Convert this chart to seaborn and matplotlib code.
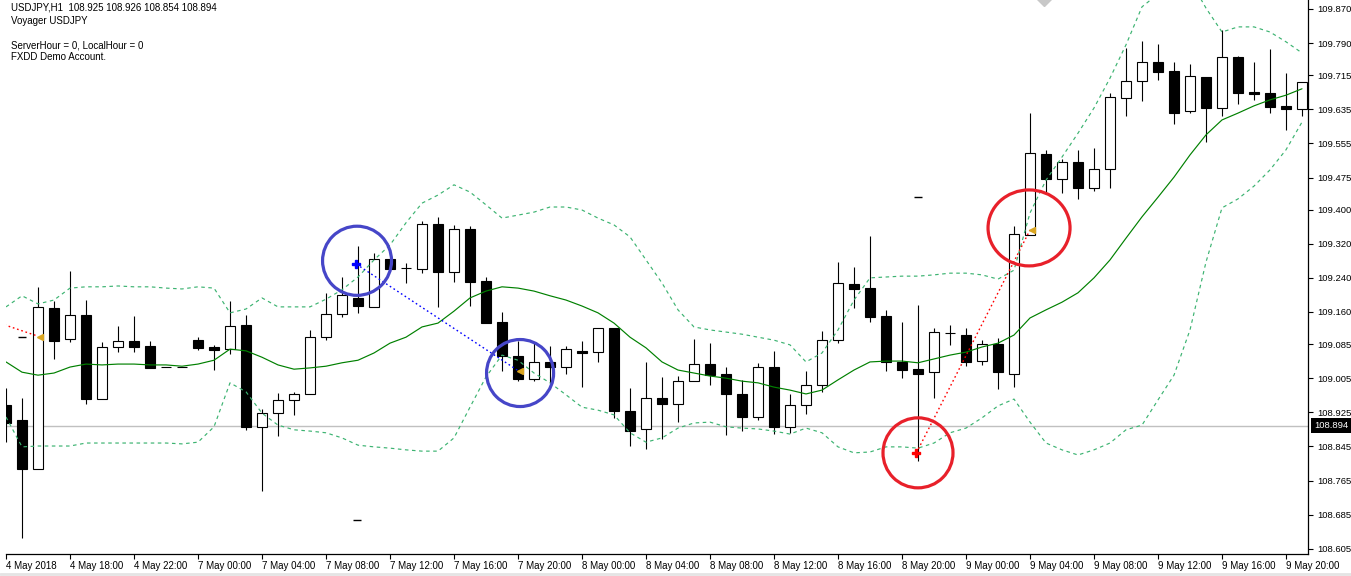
import matplotlib
matplotlib.use("Agg")
import matplotlib.pyplot as plt
import matplotlib.patches as mpatches
import matplotlib.transforms as mtransforms
from matplotlib.lines import Line2D
import numpy as np
import pandas as pd
import seaborn as sns

# ---------------- data (USDJPY H1) ----------------
time_labels = ["4 May 2018", "4 May 18:00", "4 May 22:00", "7 May 00:00", "7 May 04:00",
               "7 May 08:00", "7 May 12:00", "7 May 16:00", "7 May 20:00", "8 May 00:00",
               "8 May 04:00", "8 May 08:00", "8 May 12:00", "8 May 16:00", "8 May 20:00",
               "9 May 00:00", "9 May 04:00", "9 May 08:00", "9 May 12:00", "9 May 16:00",
               "9 May 20:00"]
label_every = 4

opens = [108.942, 108.907, 108.792, 109.169, 109.097, 109.153, 108.956, 109.078, 109.092, 109.080,
         109.031, 109.031, 109.094, 109.078, 109.073, 109.130, 108.891, 108.923, 108.954, 108.968,
         109.101, 109.155, 109.193, 109.172, 109.284, 109.263, 109.261, 109.366, 109.254, 109.354,
         109.233, 109.137, 109.057, 109.003, 109.043, 109.031, 109.069, 109.066, 109.122, 108.928,
         108.886, 108.958, 108.944, 108.998, 109.038, 109.015, 108.968, 108.914, 109.031, 108.891,
         108.942, 108.989, 109.094, 109.226, 109.216, 109.151, 109.043, 109.026, 109.019, 109.111,
         109.106, 109.045, 109.085, 109.015, 109.340, 109.530, 109.472, 109.511, 109.451, 109.495,
         109.661, 109.701, 109.746, 109.725, 109.631, 109.711, 109.638, 109.757, 109.675, 109.673,
         109.643, 109.636]
highs = [108.982, 108.958, 109.219, 109.186, 109.256, 109.188, 109.090, 109.127, 109.151, 109.092,
         109.031, 109.031, 109.101, 109.083, 109.186, 109.153, 108.933, 108.970, 108.973, 109.118,
         109.205, 109.242, 109.315, 109.298, 109.284, 109.275, 109.373, 109.383, 109.364, 109.361,
         109.242, 109.160, 109.092, 109.087, 109.080, 109.080, 109.092, 109.122, 109.122, 108.982,
         109.043, 109.008, 109.010, 109.097, 109.087, 109.031, 109.001, 109.041, 109.069, 108.968,
         109.022, 109.116, 109.277, 109.265, 109.338, 109.165, 109.137, 109.176, 109.122, 109.130,
         109.122, 109.094, 109.099, 109.361, 109.626, 109.540, 109.519, 109.540, 109.544, 109.673,
         109.779, 109.795, 109.788, 109.746, 109.741, 109.711, 109.821, 109.760, 109.746, 109.776,
         109.720, 109.699]
lows = [108.855, 108.630, 108.792, 109.050, 109.090, 108.944, 108.956, 109.066, 109.066, 109.029,
        109.031, 109.031, 109.071, 109.024, 109.062, 108.884, 108.741, 108.870, 108.919, 108.968,
        109.094, 109.148, 109.158, 109.172, 109.261, 109.228, 109.251, 109.172, 109.230, 109.174,
        109.134, 109.022, 108.998, 108.998, 108.994, 109.015, 108.984, 109.043, 108.912, 108.846,
        108.839, 108.862, 108.902, 108.998, 108.989, 108.872, 108.881, 108.907, 108.874, 108.877,
        108.921, 108.973, 109.087, 109.169, 109.137, 109.022, 109.005, 108.811, 108.958, 109.083,
        109.033, 109.036, 108.980, 108.984, 109.340, 109.439, 109.439, 109.425, 109.444, 109.451,
        109.619, 109.654, 109.704, 109.601, 109.626, 109.558, 109.619, 109.647, 109.657, 109.626,
        109.586, 109.619]
closes = [108.900, 108.792, 109.172, 109.092, 109.153, 108.956, 109.078, 109.092, 109.078, 109.029,
          109.031, 109.031, 109.076, 109.071, 109.127, 108.891, 108.923, 108.954, 108.968, 109.101,
          109.155, 109.200, 109.174, 109.284, 109.261, 109.263, 109.366, 109.254, 109.354, 109.230,
          109.134, 109.057, 109.003, 109.043, 109.031, 109.073, 109.064, 109.122, 108.928, 108.881,
          108.958, 108.944, 108.998, 109.038, 109.012, 108.968, 108.914, 109.031, 108.891, 108.942,
          108.989, 109.094, 109.228, 109.214, 109.148, 109.043, 109.024, 109.015, 109.113, 109.110,
          109.043, 109.085, 109.019, 109.343, 109.533, 109.472, 109.511, 109.451, 109.495, 109.664,
          109.701, 109.746, 109.722, 109.626, 109.713, 109.638, 109.757, 109.673, 109.671, 109.640,
          109.636, 109.699]

ma_line = [109.043, 109.019, 109.012, 109.017, 109.031, 109.038, 109.036, 109.038, 109.038, 109.036,
           109.036, 109.033, 109.038, 109.047, 109.073, 109.069, 109.054, 109.036, 109.026, 109.029,
           109.033, 109.041, 109.047, 109.064, 109.087, 109.101, 109.125, 109.134, 109.162, 109.193,
           109.209, 109.219, 109.216, 109.209, 109.198, 109.188, 109.174, 109.158, 109.134, 109.101,
           109.076, 109.043, 109.024, 109.017, 109.010, 109.005, 108.998, 108.994, 108.984, 108.977,
           108.968, 108.977, 109.001, 109.024, 109.043, 109.045, 109.045, 109.041, 109.050, 109.059,
           109.066, 109.078, 109.087, 109.106, 109.146, 109.165, 109.183, 109.205, 109.240, 109.282,
           109.333, 109.383, 109.429, 109.476, 109.528, 109.575, 109.610, 109.626, 109.643, 109.657,
           109.668, 109.683]
upper_band = [109.172, 109.198, 109.179, 109.188, 109.216, 109.219, 109.219, 109.221, 109.219, 109.219,
              109.216, 109.214, 109.219, 109.216, 109.158, 109.167, 109.193, 109.172, 109.172, 109.172,
              109.190, 109.212, 109.242, 109.282, 109.317, 109.369, 109.415, 109.434, 109.458, 109.441,
              109.411, 109.380, 109.387, 109.394, 109.406, 109.406, 109.399, 109.380, 109.364, 109.336,
              109.282, 109.228, 109.165, 109.125, 109.118, 109.113, 109.108, 109.101, 109.094, 109.083,
              109.043, 109.064, 109.118, 109.188, 109.240, 109.242, 109.244, 109.244, 109.247, 109.251,
              109.251, 109.247, 109.237, 109.258, 109.392, 109.469, 109.523, 109.579, 109.638, 109.708,
              109.786, 109.875, 109.905, 109.933, 109.938, 109.872, 109.816, 109.828, 109.828, 109.816,
              109.793, 109.767]
lower_band = [108.914, 108.844, 108.846, 108.846, 108.846, 108.853, 108.853, 108.853, 108.853, 108.853,
              108.853, 108.851, 108.855, 108.891, 108.994, 108.973, 108.923, 108.895, 108.884, 108.881,
              108.877, 108.865, 108.848, 108.844, 108.841, 108.837, 108.834, 108.834, 108.865, 108.937,
              109.008, 109.059, 109.047, 109.017, 108.994, 108.966, 108.937, 108.930, 108.919, 108.877,
              108.855, 108.865, 108.888, 108.900, 108.902, 108.891, 108.888, 108.886, 108.881, 108.874,
              108.888, 108.877, 108.844, 108.830, 108.832, 108.844, 108.844, 108.841, 108.853, 108.877,
              108.888, 108.912, 108.940, 108.956, 108.902, 108.853, 108.837, 108.825, 108.837, 108.853,
              108.884, 108.895, 108.954, 109.012, 109.118, 109.277, 109.404, 109.425, 109.455, 109.493,
              109.540, 109.605]

bid_price = 108.894
y_tick_values = [109.870, 109.790, 109.715, 109.635, 109.555, 109.475, 109.400, 109.320, 109.240,
                 109.160, 109.085, 109.005, 108.925, 108.845, 108.765, 108.685, 108.605]
header_lines = ["USDJPY,H1  108.925 108.926 108.854 108.894", "Voyager USDJPY", "",
                "ServerHour = 0, LocalHour = 0", "FXDD Demo Account."]

# signal objects drawn on the chart (bar position, price)
red_link_1_bar = [-0.1, 1.95]
red_link_1_price = [109.130, 109.104]
blue_link_bar = [21.9, 31.95]
blue_link_price = [109.272, 109.024]
red_link_2_bar = [56.9, 64.0]
red_link_2_price = [108.830, 109.352]
star_bar = [21.9, 56.9]
star_price = [109.272, 108.830]
star_colors = ["#0000FF", "#FF0000"]
triangle_bar = [2.1, 32.1, 64.1]
triangle_price = [109.101, 109.022, 109.352]
dash_bar = [1.0, 21.94, 57.0]
dash_price = [109.101, 108.673, 109.429]
circle_bar = [21.94, 32.13, 57.0, 63.94]
circle_price = [109.280, 109.017, 108.830, 109.357]
circle_w = [4.31, 4.19, 4.375, 5.125]
circle_h = [0.162, 0.157, 0.164, 0.178]
circle_colors = ["#4646C8", "#4646C8", "#E8202A", "#E8202A"]

# ---------------- figure ----------------
sns.set_theme(style="white")
plt.rcParams['font.family'] = ['Liberation Sans', 'DejaVu Sans']

W, H = 1351, 576
fig = plt.figure(figsize=(W / 100, H / 100), dpi=100)
fig.patch.set_facecolor("white")
ax = fig.add_axes([6 / W, 22 / H, 1302 / W, 554 / H])
ax.set_facecolor("white")

df = pd.DataFrame({"bar": np.arange(len(opens)), "open": opens, "high": highs, "low": lows,
                   "close": closes, "ma": ma_line, "upper": upper_band, "lower": lower_band})

ax.axhline(bid_price, color="#C0C0C0", lw=1.0, zorder=1)

# candles
ax.vlines(df["bar"], df["low"], df["high"], color="black", lw=0.8, zorder=2)
bull = (df["close"] > df["open"]).to_numpy()
body_bottom = np.minimum(df["open"], df["close"])
body_h = (df["close"] - df["open"]).abs()
ax.bar(df["bar"], body_h, bottom=body_bottom, width=0.64,
       color=np.where(bull, "white", "black"), edgecolor="black", linewidth=0.8, zorder=3)

# indicator lines
sns.lineplot(data=df, x="bar", y="ma", color="#008000", lw=0.85, ax=ax, zorder=4)
sns.lineplot(data=df, x="bar", y="upper", color="#3CB371", lw=0.85, ax=ax, zorder=4,
             linestyle=(0, (3, 3)))
sns.lineplot(data=df, x="bar", y="lower", color="#3CB371", lw=0.85, ax=ax, zorder=4,
             linestyle=(0, (3, 3)))

# signal links
ax.plot(red_link_1_bar, red_link_1_price, color="#FF0000", lw=1.0, ls=(0, (1.2, 2)), zorder=5)
ax.plot(blue_link_bar, blue_link_price, color="#0000FF", lw=1.0, ls=(0, (1.2, 2)), zorder=5)
ax.plot(red_link_2_bar, red_link_2_price, color="#FF0000", lw=1.0, ls=(0, (1.2, 2)), zorder=5)
for b, p, c in zip(star_bar, star_price, star_colors):
    ax.plot([b], [p], marker="P", ms=5.5, color=c, mec=c, zorder=6)
ax.plot(triangle_bar, triangle_price, ls="none", marker="<", ms=5, color="#DAA520", zorder=6)
ax.plot(dash_bar, dash_price, ls="none", marker="_", ms=6, mew=1.0, color="black", zorder=6)
ax.plot([64.9], [109.898], marker="D", ms=9, color="#C8C8C8", zorder=6, clip_on=True)

for b, p, w, h, c in zip(circle_bar, circle_price, circle_w, circle_h, circle_colors):
    ax.add_patch(mpatches.Ellipse((b, p), w, h, fill=False, ec=c, lw=2.3, zorder=7))

# axes
ax.set_xlim(0, 81.375)
ax.set_ylim(108.593, 109.891)
ax.set_xlabel("")
ax.set_ylabel("")
ax.grid(False)
for s in ["left", "top"]:
    ax.spines[s].set_visible(False)
for s in ["right", "bottom"]:
    ax.spines[s].set_color("black")
    ax.spines[s].set_linewidth(0.9)

ax.set_xticks(np.arange(0, len(time_labels) * label_every, label_every))
ax.set_xticklabels(time_labels, ha="left", fontsize=7, color="black")
shift = mtransforms.ScaledTranslation(-1.5 / 100, 0, fig.dpi_scale_trans)
for lab in ax.get_xticklabels():
    lab.set_transform(lab.get_transform() + shift)
ax.tick_params(axis="x", bottom=True, direction="out", length=3.5, width=0.8,
               color="black", pad=1.5, labelcolor="black")

ax.yaxis.tick_right()
ax.set_yticks(y_tick_values)
ax.set_yticklabels([f"{v:.3f}" for v in y_tick_values], fontsize=6.8, color="black")
ax.tick_params(axis="y", right=True, left=False, direction="out", length=3.5, width=0.8,
               color="black", pad=3, labelcolor="black")

# bid price label on the price scale
blend = mtransforms.blended_transform_factory(ax.transAxes, ax.transData)
ax.text(1.0045, bid_price, "108.894", transform=blend, ha="left", va="center", fontsize=6.8,
        color="white", zorder=8, clip_on=False,
        bbox=dict(boxstyle="square,pad=0.35", fc="black", ec="none"))

# header text
line_y = [7, 21, 33, 45, 57]
for txt, yy in zip(header_lines, line_y):
    if txt:
        fig.text(11 / W, 1 - yy / H, txt, fontsize=7, color="black", ha="left", va="center")

fig.add_artist(Line2D([0, 1], [2.5 / H, 2.5 / H], transform=fig.transFigure,
                      color="#E4E4E4", lw=2))

fig.savefig("out.png", dpi=100)
